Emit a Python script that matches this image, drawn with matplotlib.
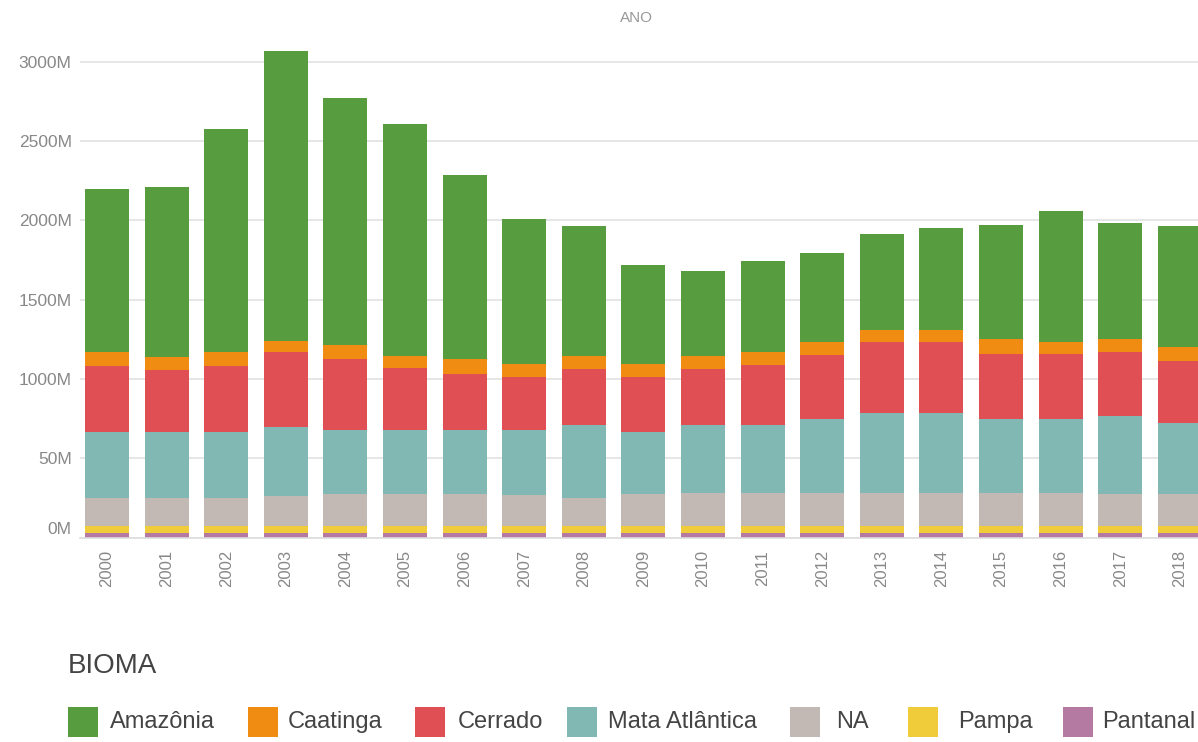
import matplotlib
matplotlib.use("Agg")
import matplotlib.pyplot as plt
from matplotlib.patches import Rectangle
from matplotlib.transforms import ScaledTranslation
import numpy as np

plt.rcParams['font.family'] = ['Liberation Sans', 'DejaVu Sans']

# dados (milhões)
anos = ['2000', '2001', '2002', '2003', '2004', '2005', '2006', '2007', '2008', '2009',
        '2010', '2011', '2012', '2013', '2014', '2015', '2016', '2017', '2018']
pantanal = [30, 30, 30, 30, 30, 30, 30, 30, 30, 30, 30, 30, 30, 30, 30, 30, 30, 30, 30]
pampa = [44, 44, 44, 44, 44, 44, 44, 44, 44, 44, 44, 44, 44, 44, 44, 44, 44, 44, 44]
na = [177, 177, 177, 189, 202, 202, 202, 196, 177, 202, 208, 208, 208, 208, 208, 208, 208, 202, 202]
mata = [416, 416, 416, 435, 404, 404, 404, 410, 461, 391, 429, 429, 467, 505, 505, 467, 467, 492, 448]
cerrado = [416, 391, 416, 473, 448, 391, 353, 334, 353, 347, 353, 379, 404, 448, 448, 410, 410, 404, 391]
caatinga = [88, 82, 88, 69, 88, 76, 95, 82, 82, 82, 82, 82, 82, 76, 76, 95, 76, 82, 88]
amazonia = [1026, 1072, 1407, 1829, 1558, 1464, 1161, 915, 820, 625, 536, 574, 561, 606, 643, 719, 826, 732, 763]

biomas = ['Amazônia', 'Caatinga', 'Cerrado', 'Mata Atlântica', 'NA', 'Pampa', 'Pantanal']
cores = {'Amazônia': '#589C40', 'Caatinga': '#F08C12', 'Cerrado': '#E04F54',
         'Mata Atlântica': '#81B8B4', 'NA': '#C2B8B4', 'Pampa': '#F0CB3A',
         'Pantanal': '#B57AA2'}
pilha = [('Pantanal', pantanal), ('Pampa', pampa), ('NA', na), ('Mata Atlântica', mata),
         ('Cerrado', cerrado), ('Caatinga', caatinga), ('Amazônia', amazonia)]

W, H = 1198, 742
fig = plt.figure(figsize=(W / 100, H / 100), dpi=100)
ax = fig.add_axes([80 / W, (H - 537.5) / H, 1118 / W, 497.5 / H])

x = np.arange(len(anos))
base = np.zeros(len(anos))
for nome, vals in pilha:
    ax.bar(x, vals, bottom=base, width=0.738, color=cores[nome], linewidth=0)
    base += np.array(vals)

ax.set_xlim(-0.453, 18.305)
ax.set_ylim(0, 3138)
ax.set_yticks([0, 500, 1000, 1500, 2000, 2500, 3000])
ax.set_yticklabels(['0M', '50M', '1000M', '1500M', '2000M', '2500M', '3000M'])
ax.set_xticks(x)
ax.set_xticklabels(anos, rotation=90, va='top', ha='center')
ax.tick_params(axis='y', length=0, pad=6, labelsize=12.5, labelcolor='#888888')
ax.tick_params(axis='x', length=0, pad=9, labelsize=12, labelcolor='#888888')
ax.yaxis.grid(True, color='#e2e2e2', linewidth=1.2)
ax.set_axisbelow(True)
for s in ['top', 'right', 'left']:
    ax.spines[s].set_visible(False)
ax.spines['bottom'].set_color('#dddddd')
ax.spines['bottom'].set_linewidth(1.2)

# rótulo 0M levemente acima
lbl0 = ax.get_yticklabels()[0]
lbl0.set_transform(lbl0.get_transform() + ScaledTranslation(0, 0.10, fig.dpi_scale_trans))

fig.text(636 / W, 1 - 18 / H, 'ANO', ha='center', va='center', color='#999999', fontsize=11)

# legenda
fig.text(68 / W, 1 - 666 / H, 'BIOMA', ha='left', va='center', color='#444444', fontsize=20)
quad_x = [68, 248, 415, 567, 790, 908, 1063]
texto_x = [110, 288, 458, 608, 836, 958, 1102]
for nome, qx, tx in zip(biomas, quad_x, texto_x):
    fig.add_artist(Rectangle((qx / W, 1 - 737 / H), 30 / W, 30 / H,
                             transform=fig.transFigure, color=cores[nome], linewidth=0))
    fig.text(tx / W, 1 - 722 / H, nome, ha='left', va='center', color='#444444', fontsize=17)

fig.savefig('out.png', dpi=100)
